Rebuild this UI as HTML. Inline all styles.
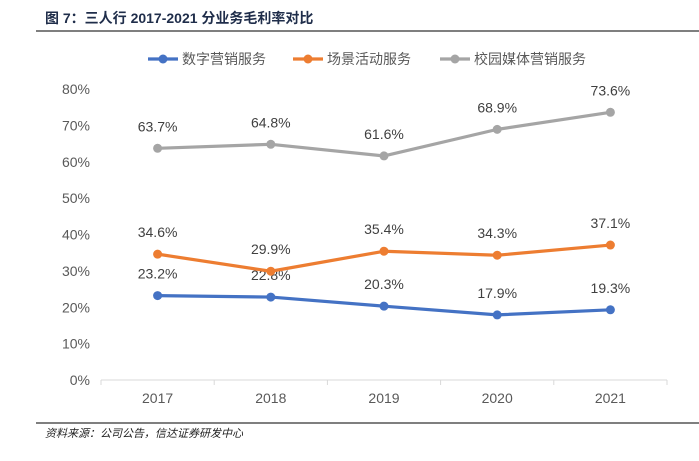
<!DOCTYPE html>
<html><head><meta charset="utf-8"><style>
body{margin:0;background:#fff;font-family:"Liberation Sans","Noto Sans CJK SC",sans-serif;}
svg text{font-family:"Liberation Sans","Noto Sans CJK SC",sans-serif;}
</style></head><body>
<svg width="699" height="456" viewBox="0 0 699 456" xmlns="http://www.w3.org/2000/svg">
<text x="45" y="23" font-size="14" font-weight="bold" fill="#1f2d4a">图  7：三人行 2017-2021 分业务毛利率对比</text>
<line x1="36" y1="31" x2="699" y2="31" stroke="#333" stroke-width="1.2"/>
<g id="legend"></g>
<g id="grid"></g>
<g id="series"></g>
<line x1="36" y1="423" x2="699" y2="423" stroke="#333" stroke-width="1.2"/>
<text x="45" y="437" font-size="11" font-style="italic" fill="#222" font-family="'Noto Serif CJK SC',serif">资料来源：公司公告，信达证券研发中心</text>
</svg>
<script>
const categories=["2017","2018","2019","2020","2021"];
const seriesNames=["数字营销服务","场景活动服务","校园媒体营销服务"];
const digital=[23.2,22.8,20.3,17.9,19.3];
const scene=[34.6,29.9,35.4,34.3,37.1];
const campus=[63.7,64.8,61.6,68.9,73.6];
const yTicks=[0,10,20,30,40,50,60,70,80];
const colors=["#4472c4","#ed7d31","#a5a5a5"];
const NS="http://www.w3.org/2000/svg";
const x0=101,x1=667,yBase=380,yTop=89;
const xs=i=>x0+(x1-x0)/categories.length*(i+0.5);
const ys=v=>yBase-(yBase-yTop)*v/80;
function mk(t,a,p){const e=document.createElementNS(NS,t);for(const k in a)e.setAttribute(k,a[k]);p.appendChild(e);return e;}
const grid=document.getElementById('grid');
yTicks.forEach(v=>{
 const t=mk('text',{x:90,y:ys(v)+5,'text-anchor':'end','font-size':14,fill:'#595959'},grid);t.textContent=v+'%';
 
 
});
const ax=mk('line',{x1:x0,y1:yBase,x2:x1,y2:yBase,stroke:'#d9d9d9','stroke-width':1},grid);


for(let i=0;i<=categories.length;i++){
 const xx=x0+(x1-x0)/categories.length*i;
 const tk=mk('line',{x1:xx,y1:yBase,x2:xx,y2:yBase+5,stroke:'#d9d9d9'},grid);
 
 
}
categories.forEach((c,i)=>{
 const t=mk('text',{x:xs(i),y:403,'text-anchor':'middle','font-size':14,fill:'#595959'},grid);t.textContent=c;
 
 
});
const sg=document.getElementById('series');
[digital,scene,campus].forEach((d,s)=>{
 const pts=d.map((v,i)=>xs(i)+','+ys(v)).join(' ');
 const pl=mk('polyline',{points:pts,fill:'none',stroke:colors[s],'stroke-width':3.2,'stroke-linejoin':'round'},sg);
 
 
 d.forEach((v,i)=>{
  const c=mk('circle',{cx:xs(i),cy:ys(v),r:4.5,fill:colors[s]},sg);
  
  
  const t=mk('text',{x:xs(i),y:ys(v)-17,'text-anchor':'middle','font-size':14,fill:'#404040'},sg);t.textContent=v.toFixed(1)+'%';
  
  
 });
});
const lg=document.getElementById('legend');
const lx=[148,293,440];
seriesNames.forEach((n,s)=>{
 const g=mk('g',{},lg);
 
 
 mk('line',{x1:lx[s],y1:59,x2:lx[s]+30,y2:59,stroke:colors[s],'stroke-width':3.2},g);
 mk('circle',{cx:lx[s]+15,cy:59,r:4.5,fill:colors[s]},g);
 const t=mk('text',{x:lx[s]+34,y:64,'font-size':14,fill:'#595959'},g);t.textContent=n;
});
</script>
</body></html>
